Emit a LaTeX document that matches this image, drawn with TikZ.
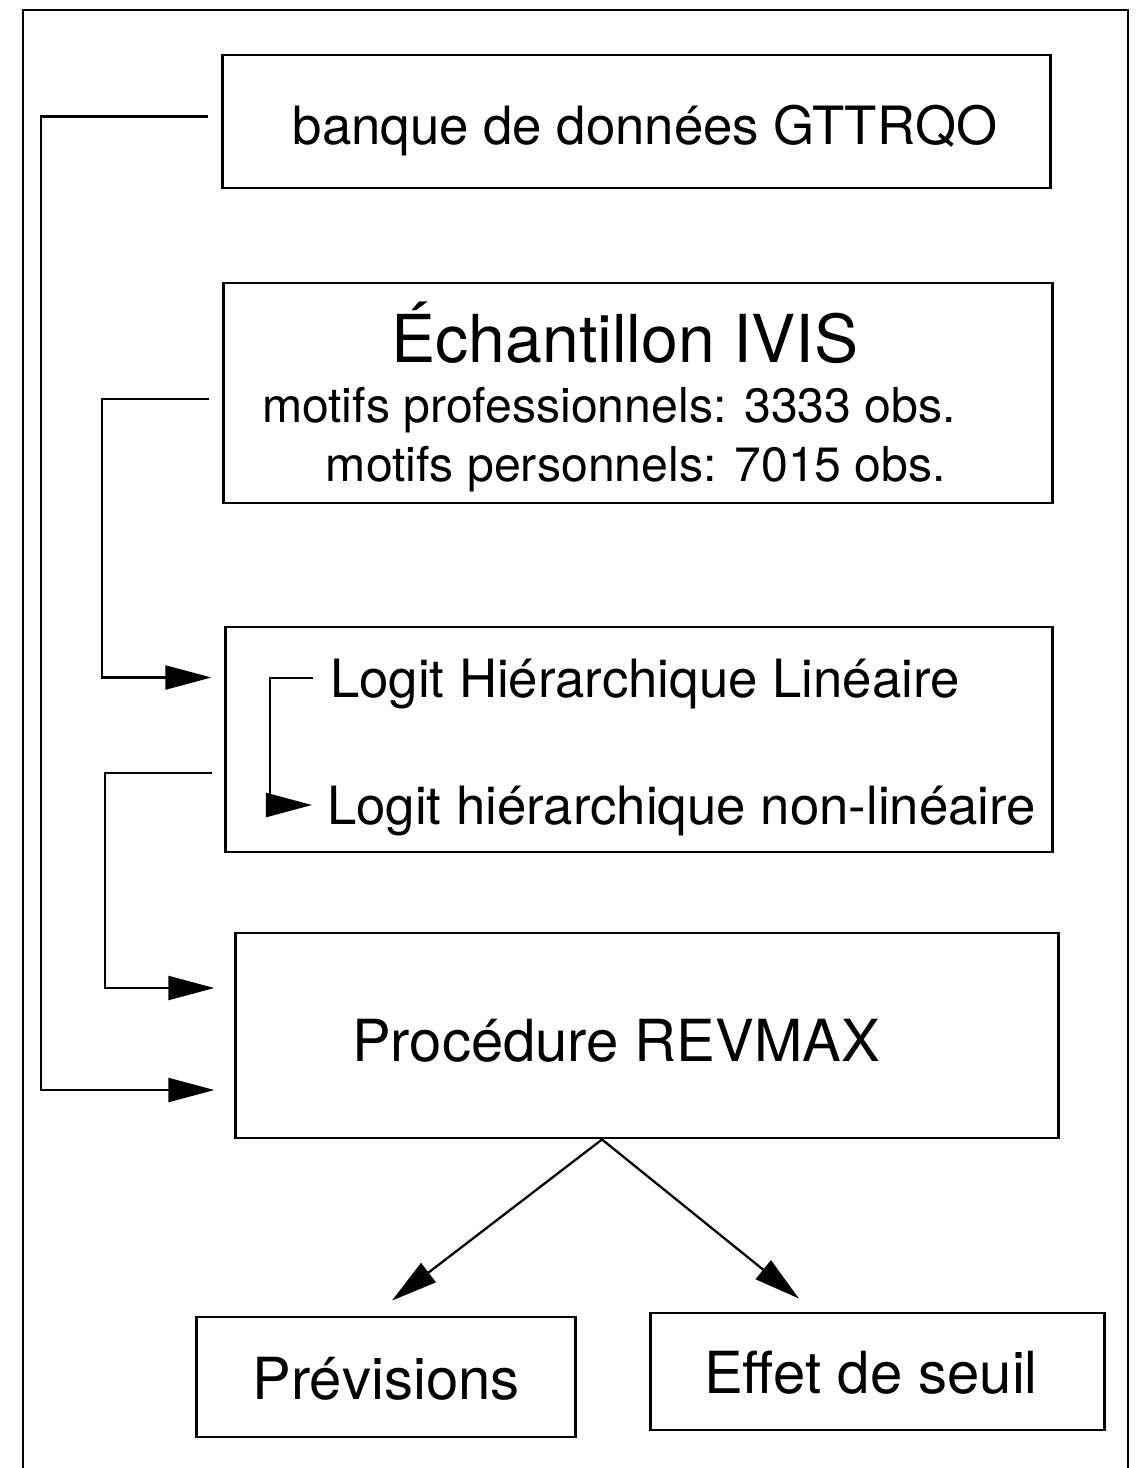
\documentclass[tikz,border=0pt]{standalone}
\usepackage{fontspec}
\setmainfont{TeX Gyre Heros}
\usetikzlibrary{arrows.meta,calc}

\begin{document}
\begin{tikzpicture}[x=0.01cm,y=-0.01cm,>={Triangle[length=0.46cm,width=0.24cm]},line width=0.65pt]
  \tikzstyle{box}=[draw,line width=0.8pt,inner sep=0pt]
  \tikzstyle{txt}=[inner sep=0pt,anchor=base]
  \useasboundingbox (0,0) rectangle (1141,1468);
  % cadre
  \draw (23,1468) -- (23,10) -- (1128,10) -- (1128,1468);
  % boites
  \node[box,minimum width=8.27cm,minimum height=1.33cm] (banque) at (636.5,121.5) {};
  \node[box,minimum width=8.28cm,minimum height=2.20cm] (echant) at (638,393) {};
  \node[box,minimum width=8.26cm,minimum height=2.25cm] (logit) at (639,739.5) {};
  \node[box,minimum width=8.22cm,minimum height=2.05cm] (revmax) at (647,1035.5) {};
  \node[box,minimum width=3.78cm,minimum height=1.20cm] (prev) at (386,1377) {};
  \node[box,minimum width=4.53cm,minimum height=1.17cm] (seuil) at (877.5,1371.5) {};
  % textes
  \node[txt,font=\fontsize{15}{18}\selectfont] (tbanque) at (645,144) {banque de données GTTRQO};
  \node[txt,font=\fontsize{18.8}{22}\selectfont] (techant) at (625,362) {Échantillon IVIS};
  \node[txt,font=\fontsize{13.7}{16}\selectfont] (prof) at (609,422) {motifs professionnels: 3333 obs.};
  \node[txt,font=\fontsize{13.7}{16}\selectfont] (perso) at (636,481) {motifs personnels: 7015 obs.};
  \node[txt,anchor=base west,font=\fontsize{15}{18}\selectfont] (lin) at (329,697) {Logit Hiérarchique Linéaire};
  \node[txt,anchor=base west,font=\fontsize{15}{18}\selectfont] (nonlin) at (326,824) {Logit hiérarchique non-linéaire};
  \node[txt,font=\fontsize{16.5}{20}\selectfont] (trevmax) at (616,1061) {Procédure REVMAX};
  \node[txt,font=\fontsize{16.5}{20}\selectfont] (tprev) at (386,1399) {Prévisions};
  \node[txt,font=\fontsize{16.5}{20}\selectfont] (tseuil) at (871,1393) {Effet de seuil};
  % liaisons
  \draw[->] ($(banque.west)+(-13,-5)$) -- ++(-167,0) |- ($(revmax.west)+(-20,54.5)$);
  \draw[->] ($(echant.west)+(-13,6)$) -- ++(-107,0) |- ($(logit.west)+(-13,-62)$);
  \draw[->] ($(logit.west)+(-12,33.5)$) -- ++(-107,0) |- ($(revmax.west)+(-20,-47.5)$);
  \draw[->] ($(lin.base west)+(-16,-19)$) -- ++(-43,0) |- ($(nonlin.base west)+(-14,-19)$);
  \draw[->] ($(revmax.south)+(-45,0)$) -- ($(prev.north)+(6,-15)$);
  \draw[->] ($(revmax.south)+(-45,0)$) -- ($(seuil.north)+(-78.5,-13)$);
\end{tikzpicture}
\end{document}
